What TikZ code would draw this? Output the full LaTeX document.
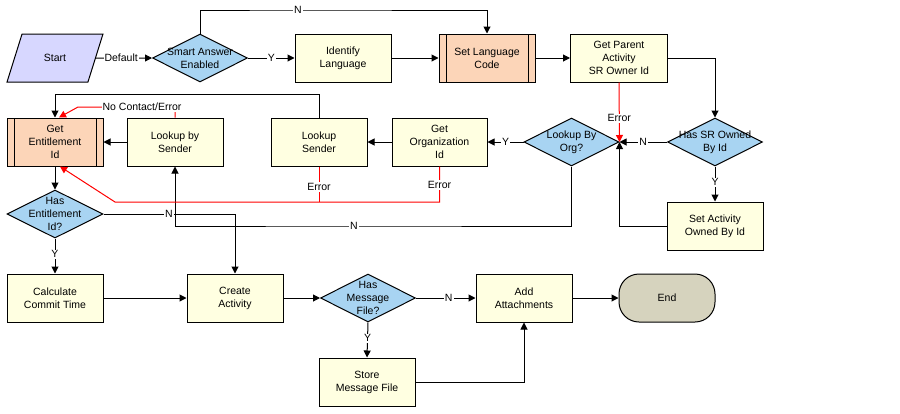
\documentclass[tikz,border=0pt]{standalone}
\usepackage{fontspec}
\setmainfont{Liberation Sans}
\usetikzlibrary{arrows.meta,shapes.geometric}
\definecolor{boxfill}{HTML}{FFFFE1}
\definecolor{diafill}{HTML}{A8D4F2}
\definecolor{subfill}{HTML}{FCD5B8}
\definecolor{startfill}{HTML}{D7D7FF}
\definecolor{endfill}{HTML}{D6D3BE}
\definecolor{errred}{HTML}{FF0000}
\tikzset{
  txt/.style={font=\fontsize{10.5}{13}\selectfont, align=center},
  box/.style={txt, draw, line width=1pt, fill=boxfill, minimum width=96pt, minimum height=48pt, inner sep=1pt},
  subbox/.style={box, fill=subfill,
    path picture={\draw[line width=1pt] ([xshift=7pt]path picture bounding box.north west) -- ([xshift=7pt]path picture bounding box.south west);
                  \draw[line width=1pt] ([xshift=-7pt]path picture bounding box.north east) -- ([xshift=-7pt]path picture bounding box.south east);}},
  diam/.style={diamond, draw, line width=1pt, fill=diafill, minimum width=95pt, minimum height=48pt, inner sep=0pt},
  dtxt/.style={txt, inner sep=0pt},
  conn/.style={line width=1pt, -{Triangle[length=7pt,width=7pt]}},
  plain/.style={line width=1pt},
  errc/.style={conn, draw=errred, -{Triangle[length=7pt,width=7pt,fill=errred]}},
  errp/.style={plain, draw=errred},
  lbl/.style={txt, fill=white, inner sep=1pt},
}
\begin{document}
\begin{tikzpicture}[x=1pt,y=-1pt]
\useasboundingbox[fill=white] (0,0) rectangle (900,413);
% nodes
\node[trapezium, trapezium left angle=65, trapezium right angle=115, trapezium stretches=true, draw, line width=1pt, fill=startfill, minimum width=96pt, minimum height=48pt, txt] (start) at (55,58) {Start};
\node[diam] (smart) at (200,58) {};
\node[dtxt] (smartt) at (smart.center) {Smart Answer\\Enabled};
\node[box] (ident) at (343,58) {Identify\\Language};
\node[subbox] (setlang) at (487,58) {Set Language\\Code};
\node[box, minimum width=97pt] (parent) at (619,58) {Get Parent\\Activity\\SR Owner Id};
\node[diam] (hassr) at (715,142) {};
\node[dtxt] (hassrt) at (hassr.center) {Has SR Owned\\By Id};
\node[box] (setown) at (715,226) {Set Activity\\Owned By Id};
\node[diam] (org) at (571.5,142) {};
\node[dtxt] (orgt) at (org.center) {Lookup By\\Org?};
\node[box, minimum width=95pt] (getorg) at (439.5,142) {Get\\Organization\\Id};
\node[box] (lsender) at (319,142) {Lookup\\Sender};
\node[box] (lbsender) at (175,142) {Lookup by\\Sender};
\node[subbox] (getent) at (55,142) {Get\\Entitlement\\Id};
\node[diam, minimum width=96pt] (hasent) at (55,214) {};
\node[dtxt] (hasentt) at (hasent.center) {Has\\Entitlement\\Id?};
\node[box] (calc) at (55,298) {Calculate\\Commit Time};
\node[box] (create) at (235,298) {Create\\Activity};
\node[diam] (hasmsg) at (368,298) {};
\node[dtxt] (hasmsgt) at (hasmsg.center) {Has\\Message\\File?};
\node[box] (store) at (367,382) {Store\\Message File};
\node[box] (addatt) at (524,298) {Add\\Attachments};
\node[txt, draw, line width=1pt, fill=endfill, minimum width=96pt, minimum height=48pt, rounded corners=20pt] (end) at (667,298) {End};
% coordinates
\coordinate (ntop) at (298,10);
\coordinate (c1) at (319,94);
\coordinate (nlab) at (354,226);
\coordinate (r1) at (175,107);
\coordinate (r2) at (78,107);
\coordinate (e1) at (319,202);
\coordinate (e2) at (439.5,202);
\coordinate (e3) at (115,202);
% connectors
\draw[conn] (start.east) -- (smart.west) node[lbl, pos=0.45] {Default};
\draw[conn] (smart.east) -- (ident.west) node[lbl, pos=0.5] {Y};
\draw[conn] (smart.north) |- (ntop) -| (setlang.north);
\node[lbl] (ntopl) at (ntop) {N};
\draw[conn] (ident.east) -- (setlang.west);
\draw[conn] (setlang.east) -- (parent.west);
\draw[conn] (parent.east) -| (hassr.north);
\draw[conn] (hassr.west) -- (org.east) node[lbl, pos=0.5] {N};
\draw[conn] (hassr.south) -- (setown.north) node[lbl, pos=0.45] {Y};
\draw[conn] (setown.west) -| (org.east);
\draw[errc] (parent.south) -- (org.east) node[lbl, pos=0.6] {Error};
\draw[conn] (org.west) -- (getorg.east) node[lbl, pos=0.5] {Y};
\draw[conn] (org.south) |- (nlab) -| (lbsender.south);
\node[lbl] (nlabl) at (nlab) {N};
\draw[conn] (getorg.west) -- (lsender.east);
\draw[conn] (lsender.north) -- (c1) -| (getent.north);
\draw[conn] (lbsender.west) -- (getent.east);
\draw[errc] (lbsender.north) -- (r1) -- (r2) -- ([xshift=4pt]getent.north);
\node[lbl] (ncl) at (142,107) {No Contact/Error};
\draw[errp] (lsender.south) -- (e1);
\draw[errc] (getorg.south) -- (e2) -- (e3) -- ([xshift=5pt]getent.south);
\node[lbl] (el1) at (319,187) {Error};
\node[lbl] (el2) at (439.5,185) {Error};
\draw[conn] (getent.south) -- (hasent.north);
\draw[conn] (hasent.east) -| (create.north);
\node[lbl] (nent) at (169,214) {N};
\draw[conn] (hasent.south) -- (calc.north) node[lbl, pos=0.45] {Y};
\draw[conn] (calc.east) -- (create.west);
\draw[conn] (create.east) -- (hasmsg.west);
\draw[conn] (hasmsg.east) -- (addatt.west) node[lbl, pos=0.55] {N};
\draw[conn] (hasmsg.south) -- (store.north) node[lbl, pos=0.45] {Y};
\draw[conn] (store.east) -| (addatt.south);
\draw[conn] (addatt.east) -- (end.west);
\end{tikzpicture}
\end{document}
